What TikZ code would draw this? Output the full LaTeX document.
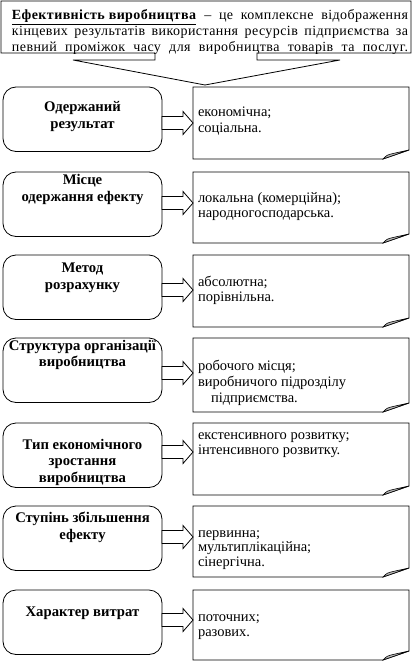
\documentclass[tikz,border=0pt]{standalone}
\usepackage{fontspec}
\setmainfont{Liberation Serif}
\usetikzlibrary{calc}
\tikzset{
  boxline/.style={draw=black, line width=0.8pt, line join=miter},
  lbox/.style={draw=black, line width=0.8pt, rounded corners=13pt, inner sep=0pt, outer sep=0pt, anchor=north west},
  rbox/.style={draw=none, inner sep=0pt, outer sep=0pt, anchor=north west},
  barrow/.style={draw=black, fill=white, line width=0.8pt, line join=miter},
  fold/.style={draw=black, fill=gray!55, line width=0.6pt}
}
\newcommand\blockarrow[3]{%
  \coordinate (#1a) at (#1.east |- 0,#3);
  \coordinate (#1b) at (#2.west |- 0,#3);
  \draw[barrow] ($(#1a)+(0,-6.5)$) -- ($(#1b)+(-10,-6.5)$) -- ($(#1b)+(-10,-11.5)$) -- (#1b)
     -- ($(#1b)+(-10,11.5)$) -- ($(#1b)+(-10,6.5)$) -- ($(#1a)+(0,6.5)$) -- cycle;}
\newcommand\foldbox[1]{%
  \draw[boxline] (#1.north west) -- (#1.north east) -- ($(#1.south east)+(0,-9)$)
     -- ($(#1.south east)+(-26,0)$) -- (#1.south west) -- cycle;
  \filldraw[fold] ($(#1.south east)+(-26,0)$) .. controls ($(#1.south east)+(-22,-4)$) .. ($(#1.south east)+(-16,-5.5)$)
     -- ($(#1.south east)+(0,-9)$) -- cycle;}
\newcommand\ltxt[3]{\parbox[c][#1pt][t]{159pt}{\centering\fontsize{14.7}{16.8}\selectfont\bfseries\rule{0pt}{#2pt}#3}}
\newcommand\rtxt[4]{\parbox[c][#1pt][t]{216pt}{\raggedright\leftskip=5pt\fontsize{14.5}{#3}\selectfont\rule{0pt}{#2pt}#4}}
\begin{document}
\begin{tikzpicture}[x=1pt,y=-1pt]
\useasboundingbox (0,0) rectangle (414,663);
% top definition box
\node[rbox] (T) at (1,1) {\parbox[c][52pt][t]{410pt}{\raggedright\leftskip=11pt\fontsize{14}{15.8}\selectfont\addfontfeature{LetterSpace=3}%
  \rule{0pt}{18.5pt}\makebox[396pt][s]{\underline{\textbf{Ефективність виробництва}} – це комплексне відображення}\\
  \makebox[396pt][s]{кінцевих результатів використання ресурсів підприємства за}\\
  \makebox[396pt][s]{певний проміжок часу для виробництва товарів та послуг.}}};
\coordinate (tip) at (205,85);
\coordinate (g1) at (155,53);
\coordinate (g2) at (257,53);
\draw[boxline] (g1) -- (T.south west) -- (T.north west) -- (T.north east) -- (T.south east)
  -- (g2) -- (257,60) -- (340,60) -- (tip) -- (73,60) -- (155,60) -- cycle;
% rows
\node[lbox] (L1) at (3,87) {\ltxt{64.5}{25}{Одержаний\\результат}};
\node[rbox] (R1) at (193,87) {\rtxt{72}{30}{15.5}{економічна;\\соціальна.}};
\node[lbox] (L2) at (3,172) {\ltxt{64.5}{12.5}{Місце\\одержання ефекту}};
\node[rbox] (R2) at (193,172) {\rtxt{71}{30}{15.5}{локальна (комерційна);\\народногосподарська.}};
\node[lbox] (L3) at (3,255) {\ltxt{64.5}{17.5}{Метод\\розрахунку}};
\node[rbox] (R3) at (193,255) {\rtxt{72}{31}{15.5}{абсолютна;\\порівнільна.}};
\node[lbox] (L4) at (3,338) {\ltxt{64.5}{12}{Структура організації\\виробництва}};
\node[rbox] (R4) at (193,338) {\rtxt{74}{32}{16.3}{робочого місця;\\виробничого підрозділу\\\hspace*{13pt}підприємства.}};
\node[lbox] (L5) at (3,423) {\ltxt{64.5}{26}{Тип економічного\\зростання\\виробництва}};
\node[rbox] (R5) at (193,423) {\rtxt{72}{16}{15.5}{екстенсивного розвитку;\\інтенсивного розвитку.}};
\node[lbox] (L6) at (3,506) {\ltxt{64.5}{16.5}{Ступінь збільшення\\ефекту}};
\node[rbox] (R6) at (193,506) {\rtxt{71}{31}{14.5}{первинна;\\мультиплікаційна;\\сінергічна.}};
\node[lbox] (L7) at (3,590) {\ltxt{64.5}{26}{Характер витрат}};
\node[rbox] (R7) at (193,590) {\rtxt{70}{31}{15}{поточних;\\разових.}};
\foldbox{R1}\foldbox{R2}\foldbox{R3}\foldbox{R4}\foldbox{R5}\foldbox{R6}\foldbox{R7}
\blockarrow{L1}{R1}{123}
\blockarrow{L2}{R2}{203}
\blockarrow{L3}{R3}{290}
\blockarrow{L4}{R4}{373}
\blockarrow{L5}{R5}{452}
\blockarrow{L6}{R6}{537}
\blockarrow{L7}{R7}{620}
\end{tikzpicture}
\end{document}
